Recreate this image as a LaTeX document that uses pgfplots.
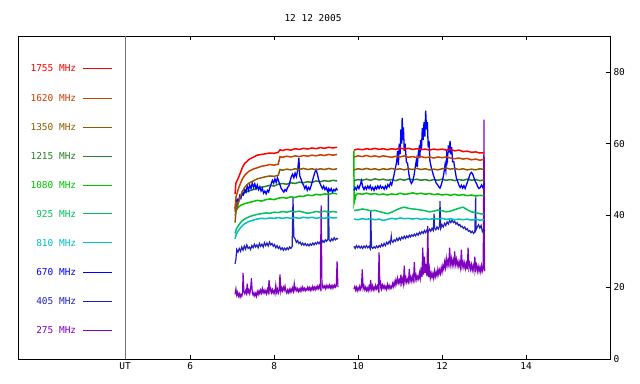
\documentclass[border=0pt]{standalone}
\usepackage{fontspec}
\setmainfont{DejaVu Sans Mono}
\usepackage{pgfplots}
\pgfplotsset{compat=1.18}
\definecolor{cA}{RGB}{255,0,0}
\definecolor{cB}{RGB}{200,64,0}
\definecolor{cC}{RGB}{140,90,0}
\definecolor{cD}{RGB}{40,128,40}
\definecolor{cE}{RGB}{0,192,0}
\definecolor{cF}{RGB}{0,192,96}
\definecolor{cG}{RGB}{0,192,192}
\definecolor{cH}{RGB}{0,0,255}
\definecolor{cI}{RGB}{32,32,192}
\definecolor{cJ}{RGB}{128,0,192}
\newcommand{\tfont}{\fontsize{9.5}{11}\selectfont}
\begin{document}
\begin{tikzpicture}
\useasboundingbox (-18bp,-25bp) rectangle (622bp,359bp);
\begin{axis}[
 at={(0,0)}, anchor=south west,
 scale only axis, width=592bp, height=323bp,
 xmin=1.9, xmax=16, ymin=0, ymax=90,
 xtick={6,8,10,12,14}, ytick={0,20,40,60,80},
 extra x ticks={4.45}, extra x tick labels={UT},
 extra x tick style={major tick length=0pt},
 ytick pos=right, xtick pos=both, xticklabel pos=bottom,
 tick align=inside, major tick length=4bp,
 tick style={black, line width=0.6pt},
 axis line style={line width=0.7pt},
 ticklabel style={font=\tfont},
 /pgf/number format/assume math mode=true,
 unbounded coords=jump,
 every axis plot/.append style={line width=1.5pt, no marks},
]
\draw[black!55, line width=0.7pt] (axis cs:4.45,0) -- (axis cs:4.45,90);
% legend
\node[anchor=east, inner sep=0pt, text=cA, font=\tfont] at (axis cs:3.29,81) {1755 MHz};
\draw[cA, line width=0.6pt] (axis cs:3.45,81) -- (axis cs:4.14,81);
\node[anchor=east, inner sep=0pt, text=cB, font=\tfont] at (axis cs:3.29,72.7) {1620 MHz};
\draw[cB, line width=0.6pt] (axis cs:3.45,72.7) -- (axis cs:4.14,72.7);
\node[anchor=east, inner sep=0pt, text=cC, font=\tfont] at (axis cs:3.29,64.5) {1350 MHz};
\draw[cC, line width=0.6pt] (axis cs:3.45,64.5) -- (axis cs:4.14,64.5);
\node[anchor=east, inner sep=0pt, text=cD, font=\tfont] at (axis cs:3.29,56.6) {1215 MHz};
\draw[cD, line width=0.6pt] (axis cs:3.45,56.6) -- (axis cs:4.14,56.6);
\node[anchor=east, inner sep=0pt, text=cE, font=\tfont] at (axis cs:3.29,48.5) {1080 MHz};
\draw[cE, line width=0.6pt] (axis cs:3.45,48.5) -- (axis cs:4.14,48.5);
\node[anchor=east, inner sep=0pt, text=cF, font=\tfont] at (axis cs:3.29,40.5) {925 MHz};
\draw[cF, line width=0.6pt] (axis cs:3.45,40.5) -- (axis cs:4.14,40.5);
\node[anchor=east, inner sep=0pt, text=cG, font=\tfont] at (axis cs:3.29,32.4) {810 MHz};
\draw[cG, line width=0.6pt] (axis cs:3.45,32.4) -- (axis cs:4.14,32.4);
\node[anchor=east, inner sep=0pt, text=cH, font=\tfont] at (axis cs:3.29,24.2) {670 MHz};
\draw[cH, line width=0.6pt] (axis cs:3.45,24.2) -- (axis cs:4.14,24.2);
\node[anchor=east, inner sep=0pt, text=cI, font=\tfont] at (axis cs:3.29,16.1) {405 MHz};
\draw[cI, line width=0.6pt] (axis cs:3.45,16.1) -- (axis cs:4.14,16.1);
\node[anchor=east, inner sep=0pt, text=cJ, font=\tfont] at (axis cs:3.29,8) {275 MHz};
\draw[cJ, line width=0.6pt] (axis cs:3.45,8) -- (axis cs:4.14,8);

% 275 MHz
\addplot[cJ, line width=1.2pt] coordinates {
(7.07,18.0)(7.09,19.5)(7.11,17.8)(7.13,18.6)(7.15,17.5)(7.17,18.2)(7.19,17.2)(7.21,18.0)(7.23,17.5)(7.25,18.5)(7.26,24.0)(7.28,18.8)(7.30,18.2)(7.32,19.0)(7.34,18.3)(7.36,21.0)(7.38,18.5)(7.40,19.2)(7.42,18.2)(7.44,19.5)(7.46,22.5)(7.48,18.5)(7.50,17.8)(7.52,18.5)(7.54,17.6)(7.56,18.3)(7.58,17.5)(7.60,18.8)(7.62,18.0)(7.64,19.0)(7.66,18.2)(7.68,19.2)(7.70,18.4)(7.72,19.6)(7.74,18.5)(7.76,19.2)(7.78,18.4)(7.80,19.0)(7.82,18.2)(7.84,19.4)(7.86,18.6)(7.88,22.0)(7.90,18.8)(7.92,19.6)(7.94,18.5)(7.96,19.3)(7.98,18.4)(8.00,19.0)(8.02,18.2)(8.04,20.5)(8.06,18.6)(8.08,19.5)(8.10,18.3)(8.12,19.0)(8.14,23.6)(8.16,18.8)(8.18,19.8)(8.20,19.0)(8.22,20.0)(8.24,19.2)(8.26,20.3)(8.28,19.0)(8.30,18.4)(8.32,19.2)(8.34,18.5)(8.36,19.4)(8.38,18.6)(8.40,19.5)(8.42,18.8)(8.44,19.8)(8.46,18.9)(8.48,21.0)(8.50,19.2)(8.52,19.8)(8.54,19.0)(8.56,19.6)(8.58,18.8)(8.60,19.5)(8.62,18.9)(8.64,19.8)(8.66,19.0)(8.68,20.0)(8.70,19.2)(8.72,19.7)(8.74,19.0)(8.76,19.6)(8.78,19.2)(8.80,20.0)(8.82,19.3)(8.84,19.9)(8.86,19.1)(8.88,19.8)(8.90,19.2)(8.92,20.2)(8.94,19.4)(8.96,20.0)(8.98,19.3)(9.00,20.1)(9.02,19.5)(9.04,20.3)(9.06,19.6)(9.08,20.4)(9.10,19.7)(9.12,42.8)(9.14,19.8)(9.16,20.5)(9.18,19.9)(9.20,20.3)(9.22,19.6)(9.24,20.5)(9.26,19.8)(9.28,20.4)(9.30,19.9)(9.32,20.6)(9.34,19.8)(9.36,20.4)(9.38,19.7)(9.40,20.5)(9.42,19.9)(9.44,20.6)(9.46,20.0)(9.48,20.4)(9.50,27.2)(9.52,20.0)
(9.7,nan)
(9.90,19.5)(9.92,20.2)(9.94,19.2)(9.96,20.0)(9.98,19.0)(10.00,19.8)(10.02,19.2)(10.04,20.3)(10.06,19.4)(10.08,20.1)(10.10,25.0)(10.12,19.6)(10.14,20.4)(10.16,19.3)(10.18,20.0)(10.20,19.1)(10.22,19.8)(10.24,19.0)(10.26,20.2)(10.28,19.3)(10.30,22.0)(10.32,19.5)(10.34,20.4)(10.36,19.2)(10.38,20.0)(10.40,19.3)(10.42,20.5)(10.44,19.6)(10.46,20.3)(10.48,19.4)(10.50,29.7)(10.52,19.8)(10.54,21.0)(10.56,19.5)(10.58,20.6)(10.60,19.8)(10.62,20.5)(10.64,19.6)(10.66,20.2)(10.68,19.4)(10.70,20.8)(10.72,19.8)(10.74,20.5)(10.76,19.6)(10.78,20.3)(10.80,19.8)(10.82,21.0)(10.84,20.2)(10.86,21.5)(10.88,20.5)(10.90,22.0)(10.92,21.0)(10.94,22.5)(10.96,21.2)(10.98,22.0)(11.00,21.0)(11.02,23.5)(11.04,21.2)(11.06,22.3)(11.08,21.0)(11.10,26.0)(11.12,21.5)(11.14,22.6)(11.16,21.3)(11.18,22.2)(11.20,21.5)(11.22,25.0)(11.24,21.8)(11.26,22.8)(11.28,21.6)(11.30,23.0)(11.32,22.0)(11.34,27.0)(11.36,22.2)(11.38,23.4)(11.40,22.0)(11.42,23.0)(11.44,22.3)(11.46,24.0)(11.48,22.5)(11.50,25.5)(11.52,22.8)(11.54,31.0)(11.56,23.5)(11.58,28.5)(11.60,24.0)(11.62,26.5)(11.64,23.0)(11.66,37.0)(11.68,22.8)(11.70,25.0)(11.72,22.6)(11.74,24.0)(11.76,22.8)(11.78,23.8)(11.80,22.5)(11.82,24.5)(11.84,23.0)(11.86,24.2)(11.88,23.2)(11.90,25.0)(11.92,23.6)(11.94,24.8)(11.96,23.8)(11.98,25.5)(12.00,24.2)(12.02,26.0)(12.04,25.0)(12.06,27.0)(12.08,25.5)(12.10,28.0)(12.12,26.0)(12.14,27.5)(12.16,26.2)(12.18,31.0)(12.20,26.5)(12.22,28.0)(12.24,26.0)(12.26,27.5)(12.28,26.2)(12.30,30.0)(12.32,26.5)(12.34,27.8)(12.36,26.0)(12.38,27.2)(12.40,25.8)(12.42,27.0)(12.44,25.5)(12.46,30.5)(12.48,25.8)(12.50,27.0)(12.52,25.5)(12.54,26.8)(12.56,25.2)(12.58,26.5)(12.60,25.0)(12.62,31.0)(12.64,25.4)(12.66,26.6)(12.68,25.0)(12.70,26.3)(12.72,24.8)(12.74,26.0)(12.76,24.6)(12.78,28.5)(12.80,25.0)(12.82,26.2)(12.84,24.5)(12.86,25.8)(12.88,24.4)(12.90,25.6)(12.92,24.3)(12.94,26.0)(12.96,24.5)(12.98,25.5)(13.00,66.7)(13.01,24.5)(13.02,25.2)
};
% 405 MHz
\addplot[cI, line width=1.2pt] coordinates {
(7.07,26.5)(7.09,27.8)(7.11,30.5)(7.14,29.8)(7.17,30.8)(7.20,30.0)(7.23,31.2)(7.26,30.3)(7.29,31.5)(7.32,30.6)(7.35,31.8)(7.38,30.8)(7.41,31.2)(7.44,30.5)(7.47,31.6)(7.50,31.0)(7.53,32.0)(7.56,31.2)(7.59,31.8)(7.62,31.0)(7.65,32.2)(7.68,31.4)(7.71,32.0)(7.74,31.2)(7.77,32.4)(7.80,31.6)(7.83,32.3)(7.86,31.5)(7.89,32.6)(7.92,31.8)(7.95,32.2)(7.98,31.4)(8.01,31.9)(8.04,31.0)(8.07,31.6)(8.10,30.8)(8.13,31.3)(8.16,30.5)(8.19,31.0)(8.22,30.3)(8.25,30.9)(8.28,30.4)(8.31,31.0)(8.34,30.5)(8.37,31.2)(8.40,30.8)(8.43,31.4)(8.45,45.0)(8.47,34.0)(8.50,33.5)(8.53,32.5)(8.56,33.0)(8.59,32.2)(8.62,32.6)(8.65,31.8)(8.68,32.3)(8.71,31.7)(8.74,32.2)(8.77,31.6)(8.80,32.0)(8.83,31.5)(8.86,32.1)(8.89,31.7)(8.92,32.3)(8.95,31.8)(8.98,32.4)(9.01,32.0)(9.04,32.6)(9.07,32.1)(9.10,32.8)(9.13,32.3)(9.16,33.0)(9.19,32.5)(9.22,33.2)(9.25,32.8)(9.28,33.4)(9.29,47.5)(9.31,33.2)(9.34,32.8)(9.37,33.5)(9.40,33.0)(9.43,33.8)(9.46,33.2)(9.49,33.6)(9.52,33.4)
(9.7,nan)
(9.90,31.4)(9.93,30.8)(9.96,31.6)(9.99,31.0)(10.02,31.5)(10.05,30.9)(10.08,31.4)(10.11,30.8)(10.14,31.5)(10.17,31.0)(10.20,31.6)(10.23,31.0)(10.26,31.4)(10.29,30.7)(10.30,41.4)(10.32,31.2)(10.35,30.8)(10.38,31.3)(10.41,30.9)(10.44,31.5)(10.47,31.0)(10.50,31.6)(10.53,31.2)(10.56,32.0)(10.59,31.4)(10.62,32.2)(10.65,31.6)(10.68,32.5)(10.71,32.0)(10.74,32.8)(10.77,32.2)(10.79,34.2)(10.80,33.0)(10.83,32.5)(10.86,33.2)(10.89,32.8)(10.92,33.6)(10.95,33.0)(10.98,33.8)(11.01,33.2)(11.04,34.0)(11.07,33.5)(11.10,34.2)(11.13,33.6)(11.16,34.3)(11.19,33.8)(11.22,34.5)(11.25,34.0)(11.28,34.6)(11.31,34.2)(11.34,34.8)(11.37,34.3)(11.40,35.0)(11.43,34.5)(11.46,35.3)(11.49,34.8)(11.52,35.5)(11.55,35.0)(11.58,35.8)(11.61,35.2)(11.64,36.0)(11.67,35.4)(11.70,36.2)(11.73,35.6)(11.76,36.4)(11.79,35.8)(11.81,40.5)(11.82,36.5)(11.85,36.0)(11.88,36.8)(11.91,36.2)(11.94,37.0)(11.95,44.0)(11.97,36.4)(12.00,37.4)(12.03,36.8)(12.06,37.8)(12.09,37.2)(12.12,38.2)(12.15,37.6)(12.18,38.6)(12.21,38.0)(12.24,38.8)(12.27,38.0)(12.30,38.4)(12.33,37.6)(12.36,38.0)(12.39,37.2)(12.42,37.5)(12.45,36.8)(12.48,37.0)(12.51,36.4)(12.54,36.8)(12.57,36.0)(12.60,36.3)(12.63,35.6)(12.66,35.8)(12.69,35.2)(12.72,35.6)(12.75,35.0)(12.78,35.4)(12.80,45.0)(12.81,36.0)(12.84,36.8)(12.87,37.4)(12.90,36.5)(12.93,37.2)(12.96,35.5)(12.99,36.2)(13.02,35.6)
};
% 810 MHz
\addplot[cG] coordinates {
(7.07,33.5)(7.10,34.8)(7.15,35.8)(7.20,36.6)(7.25,37.2)(7.30,37.7)(7.40,38.3)(7.50,38.7)(7.60,39.0)(7.70,39.2)(7.80,39.1)(7.90,39.3)(8.00,39.2)(8.10,39.4)(8.20,39.2)(8.30,39.4)(8.40,39.2)(8.50,39.4)(8.60,39.2)(8.70,39.5)(8.80,39.3)(8.90,39.5)(9.00,39.2)(9.10,39.4)(9.20,39.2)(9.30,39.5)(9.40,39.3)(9.50,39.4)
(9.7,nan)
(9.90,39.0)(10.0,38.8)(10.1,39.1)(10.2,38.9)(10.3,39.1)(10.4,38.8)(10.5,39.0)(10.6,38.6)(10.7,38.9)(10.8,39.2)(10.9,39.0)(11.0,39.3)(11.1,39.1)(11.2,39.2)(11.3,39.0)(11.4,39.2)(11.5,38.9)(11.6,39.1)(11.7,38.9)(11.8,39.1)(11.9,39.0)(12.0,39.2)(12.1,38.9)(12.2,39.1)(12.3,38.8)(12.4,39.0)(12.5,38.8)(12.6,39.0)(12.7,38.7)(12.8,38.9)(12.9,38.7)(13.0,38.8)
};
% 925 MHz
\addplot[cF] coordinates {
(7.07,35.0)(7.10,36.2)(7.15,37.2)(7.20,38.0)(7.25,38.6)(7.30,39.0)(7.40,39.6)(7.50,40.0)(7.60,40.3)(7.70,40.5)(7.80,40.7)(7.90,40.6)(8.00,40.9)(8.10,40.8)(8.20,41.1)(8.30,40.9)(8.40,41.2)(8.50,41.0)(8.60,41.2)(8.70,40.9)(8.80,40.6)(8.90,40.8)(9.00,41.1)(9.10,40.9)(9.20,41.2)(9.30,40.9)(9.40,41.1)(9.50,40.9)
(9.7,nan)
(9.90,41.4)(10.0,41.5)(10.1,41.8)(10.2,41.6)(10.3,41.3)(10.4,41.4)(10.5,41.1)(10.6,40.8)(10.7,40.5)(10.8,40.9)(10.9,41.5)(11.0,42.0)(11.1,42.3)(11.2,42.0)(11.3,41.8)(11.4,41.7)(11.5,41.5)(11.6,41.3)(11.7,41.0)(11.8,41.2)(11.9,41.5)(12.0,41.3)(12.1,41.0)(12.2,41.2)(12.3,41.6)(12.4,42.0)(12.5,42.3)(12.6,41.6)(12.7,41.0)(12.8,40.8)(12.9,40.5)(13.0,40.3)
};
% 1080 MHz
\addplot[cE] coordinates {
(7.07,40.0)(7.10,41.5)(7.15,42.3)(7.20,42.8)(7.30,43.3)(7.40,43.6)(7.50,43.9)(7.60,44.2)(7.70,44.0)(7.80,44.4)(7.90,44.6)(8.00,44.4)(8.10,44.8)(8.20,45.0)(8.30,44.8)(8.40,45.2)(8.50,45.0)(8.60,45.4)(8.70,45.3)(8.80,45.7)(8.90,45.5)(9.00,45.9)(9.10,45.7)(9.20,46.0)(9.30,45.9)(9.40,46.2)(9.50,46.0)
(9.7,nan)
(9.90,58.0)(9.905,43.5)(9.95,45.8)(10.0,46.1)(10.1,45.9)(10.2,46.2)(10.3,45.9)(10.4,46.1)(10.5,45.8)(10.6,46.0)(10.7,45.7)(10.8,46.0)(10.9,45.8)(11.0,46.2)(11.1,45.9)(11.2,46.0)(11.3,46.3)(11.4,46.0)(11.5,46.2)(11.6,45.9)(11.7,46.1)(11.8,45.8)(11.9,46.0)(12.0,45.7)(12.1,45.9)(12.2,45.6)(12.3,45.9)(12.4,45.6)(12.5,45.8)(12.6,45.5)(12.7,45.7)(12.8,45.4)(12.9,45.6)(13.0,45.5)
};
% 1215 MHz
\addplot[cD] coordinates {
(7.07,41.0)(7.10,42.8)(7.15,44.0)(7.20,45.2)(7.25,45.8)(7.30,46.4)(7.40,46.8)(7.50,47.2)(7.60,47.5)(7.70,47.9)(7.80,48.1)(7.90,48.4)(8.00,48.2)(8.10,48.7)(8.20,48.9)(8.30,48.7)(8.40,49.1)(8.50,48.9)(8.60,49.3)(8.70,49.1)(8.80,49.4)(8.90,49.2)(9.00,49.6)(9.10,49.4)(9.20,49.7)(9.30,49.5)(9.40,49.8)(9.50,49.6)
(9.7,nan)
(9.90,49.7)(10.0,50.0)(10.1,49.8)(10.2,50.1)(10.3,49.8)(10.4,50.2)(10.5,49.9)(10.6,50.1)(10.7,49.8)(10.8,50.0)(10.9,49.7)(11.0,50.1)(11.1,49.8)(11.2,50.2)(11.3,49.9)(11.4,50.1)(11.5,49.8)(11.6,50.0)(11.7,49.7)(11.8,50.0)(11.9,49.8)(12.0,50.1)(12.1,49.8)(12.2,50.0)(12.3,49.7)(12.4,50.0)(12.5,49.8)(12.6,50.1)(12.7,49.8)(12.8,50.0)(12.9,49.7)(13.0,49.9)
};
% 670 MHz
\addplot[cH, line width=1.3pt] coordinates {
(7.07,42.0)(7.09,43.6)(7.12,44.5)(7.15,43.8)(7.18,45.5)(7.21,44.8)(7.24,46.5)(7.27,45.8)(7.30,47.2)(7.33,46.5)(7.36,48.2)(7.39,47.0)(7.42,48.5)(7.45,47.5)(7.48,49.0)(7.51,47.8)(7.54,48.8)(7.57,47.5)(7.60,48.5)(7.63,47.2)(7.66,48.0)(7.69,46.8)(7.72,47.5)(7.75,46.2)(7.78,46.8)(7.81,46.0)(7.84,47.0)(7.87,46.5)(7.90,47.8)(7.93,48.8)(7.96,49.8)(7.99,49.0)(8.02,50.2)(8.05,49.2)(8.08,50.5)(8.11,49.5)(8.14,48.5)(8.17,47.5)(8.20,47.0)(8.23,46.5)(8.26,47.2)(8.29,46.8)(8.32,47.8)(8.35,48.2)(8.38,49.5)(8.41,50.8)(8.44,51.5)(8.47,50.5)(8.50,51.8)(8.53,50.8)(8.56,52.5)(8.59,56.0)(8.61,51.0)(8.64,50.2)(8.67,49.0)(8.70,48.5)(8.73,47.5)(8.76,48.2)(8.79,47.0)(8.82,47.8)(8.85,47.2)(8.88,48.2)(8.91,49.5)(8.94,50.8)(8.97,52.0)(9.00,52.8)(9.03,51.5)(9.06,50.0)(9.09,49.0)(9.12,48.2)(9.15,47.5)(9.18,48.2)(9.21,47.2)(9.24,47.8)(9.27,46.8)(9.30,47.5)(9.33,46.8)(9.36,47.5)(9.39,46.5)(9.42,47.2)(9.45,46.8)(9.48,47.5)(9.51,47.0)
(9.7,nan)
(9.90,47.0)(9.93,47.8)(9.96,47.2)(9.99,48.2)(10.02,47.5)(10.05,48.5)(10.08,49.7)(10.11,48.0)(10.14,47.2)(10.17,48.0)(10.20,47.3)(10.23,48.2)(10.26,47.5)(10.29,48.3)(10.32,47.2)(10.35,47.8)(10.38,47.0)(10.41,48.0)(10.44,47.4)(10.47,48.2)(10.50,47.5)(10.53,48.3)(10.56,47.6)(10.59,48.0)(10.62,47.3)(10.65,48.2)(10.68,47.5)(10.71,48.6)(10.74,48.0)(10.77,49.2)(10.80,48.5)(10.83,50.0)(10.86,51.5)(10.89,53.3)(10.92,55.0)(10.94,58.0)(10.96,54.0)(10.98,60.0)(11.00,57.0)(11.02,64.0)(11.04,60.0)(11.05,67.2)(11.07,61.0)(11.08,64.5)(11.10,58.0)(11.12,60.0)(11.15,55.0)(11.18,54.4)(11.21,51.5)(11.24,49.7)(11.27,48.9)(11.30,49.5)(11.33,51.0)(11.36,53.3)(11.39,55.5)(11.41,53.5)(11.43,57.0)(11.45,58.5)(11.47,56.0)(11.49,61.0)(11.51,58.5)(11.53,64.4)(11.55,61.0)(11.57,66.0)(11.59,62.0)(11.61,69.2)(11.63,64.0)(11.65,66.0)(11.67,59.0)(11.69,60.8)(11.71,55.3)(11.74,53.5)(11.77,52.2)(11.80,51.0)(11.83,50.0)(11.86,49.0)(11.89,48.6)(11.92,48.0)(11.95,47.6)(11.98,48.5)(12.01,49.8)(12.04,51.5)(12.07,54.0)(12.09,52.5)(12.11,57.0)(12.13,55.5)(12.15,59.5)(12.17,57.5)(12.19,60.8)(12.21,57.0)(12.23,59.0)(12.25,55.0)(12.28,55.0)(12.31,52.5)(12.34,50.5)(12.37,49.5)(12.40,48.5)(12.43,47.8)(12.46,48.4)(12.49,47.6)(12.52,48.3)(12.55,47.5)(12.58,48.5)(12.61,49.5)(12.64,50.5)(12.67,51.6)(12.70,52.0)(12.73,51.5)(12.76,50.5)(12.79,49.5)(12.82,48.9)(12.85,48.0)(12.88,47.5)(12.91,47.8)(12.94,48.5)(12.97,47.8)(13.00,48.6)(13.02,48.9)
};
% 1350 MHz
\addplot[cC] coordinates {
(7.07,38.0)(7.09,41.0)(7.15,43.5)(7.20,45.5)(7.25,46.8)(7.30,47.8)(7.35,48.5)(7.40,49.0)(7.50,49.6)(7.60,50.2)(7.70,50.5)(7.80,50.8)(7.90,51.0)(8.00,50.9)(8.10,51.2)(8.14,52.8)(8.20,52.6)(8.30,52.9)(8.40,52.7)(8.50,53.0)(8.60,52.8)(8.70,53.1)(8.80,52.8)(8.90,53.0)(9.00,52.7)(9.10,53.0)(9.20,52.8)(9.30,53.1)(9.40,52.8)(9.50,53.0)
(9.7,nan)
(9.90,52.7)(10.0,53.0)(10.1,52.8)(10.2,53.1)(10.3,52.8)(10.4,53.0)(10.5,52.7)(10.6,53.0)(10.7,52.8)(10.8,53.1)(10.9,52.8)(11.0,53.0)(11.1,52.7)(11.2,53.0)(11.3,52.8)(11.4,53.1)(11.5,52.8)(11.6,53.0)(11.7,52.7)(11.8,52.9)(11.9,52.7)(12.0,53.0)(12.1,53.2)(12.2,52.9)(12.3,53.1)(12.4,52.8)(12.5,53.0)(12.6,52.7)(12.7,52.9)(12.8,52.7)(12.9,53.0)(13.0,52.8)
};
% 1620 MHz
\addplot[cB] coordinates {
(7.07,41.5)(7.09,45.0)(7.15,47.5)(7.20,49.0)(7.25,50.3)(7.30,51.2)(7.35,51.8)(7.40,52.3)(7.50,52.9)(7.60,53.3)(7.70,53.7)(7.80,53.9)(7.90,54.2)(8.00,54.0)(8.10,54.3)(8.14,56.4)(8.20,56.2)(8.30,56.5)(8.40,56.3)(8.50,56.6)(8.60,56.4)(8.70,56.7)(8.80,56.5)(8.90,56.8)(9.00,56.6)(9.10,56.9)(9.20,56.7)(9.30,57.0)(9.40,56.8)(9.50,57.0)
(9.7,nan)
(9.90,56.3)(10.0,56.6)(10.1,56.4)(10.2,56.7)(10.3,56.4)(10.4,56.6)(10.5,56.3)(10.6,56.6)(10.7,56.4)(10.8,56.2)(10.9,56.5)(11.0,56.3)(11.1,56.6)(11.2,56.2)(11.3,56.4)(11.4,56.1)(11.5,56.4)(11.6,56.1)(11.7,56.3)(11.8,56.0)(11.9,56.3)(12.0,56.1)(12.1,56.3)(12.2,56.0)(12.3,55.8)(12.4,56.0)(12.5,55.7)(12.6,55.9)(12.7,55.5)(12.8,55.7)(12.9,55.4)(13.0,55.6)
};
% 1755 MHz
\addplot[cA] coordinates {
(7.07,46.0)(7.09,49.0)(7.15,50.5)(7.20,52.0)(7.25,53.5)(7.30,54.5)(7.35,55.0)(7.40,55.6)(7.50,56.2)(7.60,56.8)(7.70,57.0)(7.80,57.2)(7.90,57.4)(8.00,57.3)(8.10,57.6)(8.14,58.3)(8.20,58.1)(8.30,58.4)(8.40,58.2)(8.50,58.6)(8.60,58.4)(8.70,58.7)(8.80,58.5)(8.90,58.8)(9.00,58.6)(9.10,58.9)(9.20,58.7)(9.30,59.0)(9.40,58.8)(9.50,59.0)
(9.7,nan)
(9.90,58.2)(10.0,58.5)(10.1,58.3)(10.2,58.6)(10.3,58.4)(10.4,58.7)(10.5,58.4)(10.6,58.6)(10.7,58.3)(10.8,58.6)(10.9,58.4)(11.0,58.8)(11.1,58.5)(11.2,58.7)(11.3,58.4)(11.4,58.6)(11.5,58.3)(11.6,58.5)(11.7,58.2)(11.8,58.5)(11.9,58.3)(12.0,58.5)(12.1,58.2)(12.2,58.4)(12.3,58.0)(12.4,58.2)(12.5,57.8)(12.6,57.9)(12.7,57.6)(12.8,57.7)(12.9,57.4)(13.0,57.5)
};
\end{axis}
\node[font=\tfont] at (295bp,341bp) {12 12 2005};
\end{tikzpicture}
\end{document}
